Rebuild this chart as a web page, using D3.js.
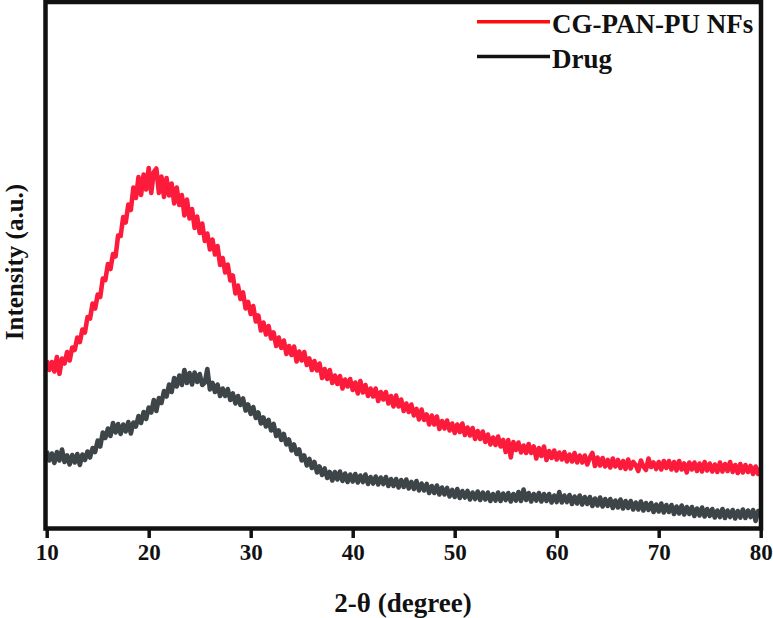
<!DOCTYPE html>
<html>
<head>
<meta charset="utf-8">
<script src="https://cdn.jsdelivr.net/npm/d3@7/dist/d3.min.js"></script>
<style>
  html, body { margin: 0; padding: 0; background: #fff; }
  svg { display: block; }
  text { font-family: "Liberation Serif", "Times New Roman", serif; font-weight: bold; fill: #111; }
</style>
</head>
<body>
<svg id="chart" width="773" height="618"></svg>
<script>
// 2θ scan grid (degrees): 10 to 80 in 0.25° steps
const thetaStart = 10, thetaEnd = 80, thetaStep = 0.25;
const xTicks = [10, 20, 30, 40, 50, 60, 70, 80];
const seriesNames = ["CG-PAN-PU NFs", "Drug"];

// Intensity (a.u.), one value per 0.25°
const nfsIntensity = [
  33.5, 31.6, 33.2, 31.3, 34.2, 30.8, 33.9, 32.9, 35.2, 33.5,
  36.1, 35.6, 38.1, 37.2, 39.7, 39.1, 42.2, 41.9, 44.9, 43.9,
  46.7, 46.2, 49.9, 49.6, 52.8, 51.8, 54.8, 54.3, 58.5, 58.4,
  62.2, 61.1, 64.7, 63.6, 68.1, 66.0, 70.2, 66.6, 70.7, 67.7,
  72.0, 67.0, 71.2, 71.9, 67.0, 70.3, 66.2, 70.0, 66.5, 68.9,
  64.9, 68.1, 64.6, 66.6, 62.5, 65.7, 61.9, 63.8, 60.0, 62.3,
  59.0, 60.9, 57.4, 58.9, 55.7, 57.7, 54.7, 56.4, 52.6, 54.0,
  51.1, 52.7, 49.5, 50.5, 46.9, 48.5, 45.8, 47.1, 43.9, 45.2,
  42.8, 44.4, 41.3, 42.5, 39.5, 41.1, 38.7, 40.4, 37.9, 39.1,
  36.4, 38.1, 36.0, 37.5, 34.8, 36.4, 34.6, 36.3, 33.3, 35.3,
  33.5, 35.2, 32.6, 33.9, 31.6, 33.4, 31.5, 32.9, 30.0, 31.8,
  29.8, 31.6, 29.0, 30.5, 28.8, 30.4, 27.9, 29.7, 28.3, 29.8,
  27.6, 29.1, 26.9, 29.4, 27.1, 28.6, 26.4, 27.9, 26.3, 27.9,
  25.4, 27.2, 25.7, 27.2, 24.9, 26.4, 24.3, 26.5, 24.3, 25.7,
  23.4, 24.9, 23.2, 24.7, 22.5, 23.8, 21.7, 23.7, 21.6, 22.7,
  20.7, 22.5, 20.7, 22.3, 19.8, 21.4, 19.9, 21.5, 19.5, 20.9,
  19.0, 20.7, 19.2, 20.9, 18.6, 20.1, 18.5, 20.0, 17.8, 19.4,
  17.8, 19.3, 17.2, 18.7, 16.7, 18.1, 16.6, 18.3, 16.3, 17.6,
  15.2, 17.6, 14.1, 17.2, 15.6, 17.1, 15.1, 16.5, 15.0, 16.8,
  15.0, 16.3, 13.9, 16.0, 14.4, 16.3, 13.6, 15.4, 14.0, 15.5,
  13.7, 15.1, 13.7, 15.2, 13.3, 14.7, 13.3, 15.0, 13.1, 14.5,
  13.1, 14.5, 12.7, 14.1, 15.0, 12.4, 14.1, 12.5, 14.0, 12.3,
  13.6, 12.1, 13.9, 12.3, 13.6, 12.0, 13.4, 11.8, 13.7, 11.9,
  13.2, 12.6, 11.4, 13.5, 12.3, 11.6, 13.9, 12.2, 13.1, 11.8,
  13.2, 11.7, 13.4, 12.0, 13.4, 11.7, 13.2, 11.5, 13.4, 11.7,
  12.9, 11.1, 13.1, 11.7, 13.1, 11.4, 12.9, 11.3, 13.2, 11.5,
  12.9, 11.3, 12.7, 11.2, 13.1, 11.3, 12.8, 11.4, 13.2, 11.2,
  12.6, 11.0, 12.8, 11.1, 12.6, 11.2, 12.4, 10.8, 12.3, 10.8,
  12.0
];

const drugIntensity = [
  15.4, 13.5, 14.9, 13.0, 15.2, 13.5, 15.7, 13.2, 14.5, 12.7,
  14.6, 13.1, 14.8, 12.6, 14.7, 13.6, 15.3, 14.1, 16.0, 15.2,
  17.5, 16.3, 19.1, 18.0, 19.9, 18.4, 21.0, 19.1, 20.8, 18.8,
  20.7, 19.3, 21.2, 18.9, 21.1, 20.3, 22.4, 21.0, 23.2, 21.8,
  24.1, 23.1, 25.6, 23.4, 26.0, 25.0, 27.4, 26.3, 28.7, 27.2,
  30.0, 28.3, 30.5, 28.6, 31.6, 29.0, 31.0, 28.7, 31.1, 29.2,
  30.8, 28.6, 29.1, 31.8, 27.7, 29.0, 27.2, 28.7, 26.4, 27.9,
  26.4, 27.8, 25.6, 26.9, 24.9, 26.4, 24.6, 25.9, 23.5, 24.7,
  22.8, 24.2, 22.0, 23.1, 20.9, 22.1, 20.3, 21.6, 19.5, 20.8,
  18.4, 19.5, 17.6, 18.8, 16.7, 17.7, 15.5, 16.7, 14.8, 15.7,
  13.5, 14.5, 12.5, 13.8, 12.0, 13.2, 11.1, 12.3, 10.6, 11.9,
  10.0, 11.2, 9.5, 11.2, 9.7, 11.3, 9.4, 10.9, 9.2, 10.7,
  9.3, 10.8, 9.1, 10.5, 9.2, 10.7, 8.8, 10.2, 8.9, 10.3,
  8.7, 10.1, 8.8, 10.2, 8.4, 9.8, 8.4, 9.8, 8.1, 9.6,
  8.2, 9.7, 7.9, 9.2, 7.8, 9.4, 7.5, 8.9, 7.5, 8.8,
  7.0, 8.4, 7.0, 8.5, 6.7, 8.1, 6.7, 8.0, 6.3, 7.6,
  6.2, 7.8, 6.0, 7.4, 6.1, 7.4, 5.7, 7.1, 5.8, 7.3,
  5.6, 7.1, 5.7, 7.1, 5.4, 6.8, 5.5, 7.1, 5.4, 6.9,
  5.6, 7.0, 5.3, 6.8, 5.5, 7.2, 5.4, 7.7, 5.6, 7.0,
  5.3, 6.8, 5.5, 7.0, 5.3, 6.8, 5.4, 6.8, 5.1, 6.5,
  5.2, 7.2, 5.1, 6.5, 5.2, 6.6, 4.8, 6.3, 4.9, 6.5,
  4.7, 6.2, 4.8, 6.2, 4.4, 5.9, 4.5, 6.1, 4.3, 5.8,
  4.4, 5.8, 4.0, 5.5, 4.1, 5.7, 3.9, 5.4, 4.0, 5.4,
  3.7, 5.1, 3.7, 5.3, 3.5, 5.0, 3.6, 5.0, 3.2, 4.7,
  3.3, 4.9, 3.1, 4.6, 3.2, 4.6, 2.8, 4.3, 2.9, 4.5,
  2.7, 4.2, 2.8, 4.2, 2.4, 3.9, 2.5, 4.1, 2.3, 3.8,
  2.4, 3.8, 2.1, 3.5, 2.2, 3.8, 2.0, 3.5, 2.2, 3.6,
  1.9, 3.4, 2.1, 3.7, 2.0, 3.5, 2.2, 3.6, 1.4, 3.4,
  2.5
];

const svg = d3.select("#chart");
const plot = { left: 46.7, right: 760.7, top: 3, bottom: 528 };

const x = d3.scaleLinear().domain([thetaStart, thetaEnd]).range([plot.left, plot.right]);
const y = d3.scaleLinear().domain([0, 105]).range([plot.bottom, plot.top]);

const thetas = nfsIntensity.map((_, i) => thetaStart + i * thetaStep);

const line = d3.line().x(d => x(d[0])).y(d => y(d[1]));

svg.append("path")
  .datum(thetas.map((t, i) => [t, drugIntensity[i]]))
  .attr("d", line)
  .attr("fill", "none")
  .attr("stroke", "#3e4548")
  .attr("stroke-width", 4.6)
  .attr("stroke-linejoin", "round");

svg.append("path")
  .datum(thetas.map((t, i) => [t, nfsIntensity[i]]))
  .attr("d", line)
  .attr("fill", "none")
  .attr("stroke", "#fd1b3b")
  .attr("stroke-width", 4.6)
  .attr("stroke-linejoin", "round");

// frame
svg.append("rect")
  .attr("x", 45.5).attr("y", 2)
  .attr("width", 715.5).attr("height", 526.5)
  .attr("fill", "none")
  .attr("stroke", "#111")
  .attr("stroke-width", 4.5);

// bottom axis
const xAxis = d3.axisBottom(x).tickValues(xTicks).tickSize(10).tickPadding(6).tickFormat(d3.format("d"));
const gx = svg.append("g").attr("transform", `translate(0,${plot.bottom})`).call(xAxis);
gx.select(".domain").remove();
gx.selectAll(".tick line").attr("stroke", "#111").attr("stroke-width", 3.5);
gx.selectAll(".tick text")
  .attr("fill", "#111")
  .style("font-family", '"Liberation Serif", "Times New Roman", serif')
  .style("font-weight", "bold")
  .style("font-size", "23px");

// axis titles
svg.append("text")
  .attr("x", 403).attr("y", 612)
  .attr("text-anchor", "middle")
  .style("font-size", "27px")
  .text("2-θ (degree)");

svg.append("text")
  .attr("transform", "translate(23,262) rotate(-90)")
  .attr("text-anchor", "middle")
  .style("font-size", "25px")
  .text("Intensity (a.u.)");

// legend
const legendColors = ["#ff0d0d", "#111"];
const legendY = [21.7, 56.5];
seriesNames.forEach((name, i) => {
  svg.append("line")
    .attr("x1", 477).attr("x2", 550)
    .attr("y1", legendY[i]).attr("y2", legendY[i])
    .attr("stroke", legendColors[i])
    .attr("stroke-width", 3.4);
  svg.append("text")
    .attr("x", 552).attr("y", legendY[i] + 11)
    .style("font-size", "27px")
    .text(name);
});
</script>
</body>
</html>
